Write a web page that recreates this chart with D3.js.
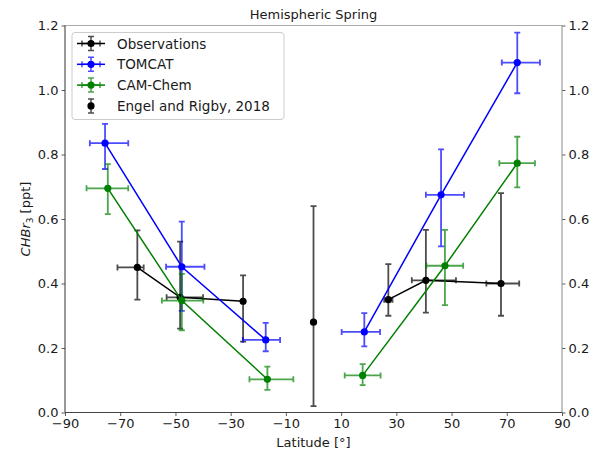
<!DOCTYPE html>
<meta charset="utf-8">
<head>
<style>
body { margin: 0; background: white; }
text { font-family: "DejaVu Sans", sans-serif; fill: #1a1a1a; }
</style>
<script src="https://d3js.org/d3.v7.min.js"></script>
</head>
<body>
<div id="chart"></div>
<script>
// values (latitude in degrees, CHBr3 in ppt)
var obsLat = [-63.8, -48.3, -25.5, 27.1, 40.7, 67.9];
var obsVal = [0.45, 0.357, 0.345, 0.35, 0.41, 0.40];
var obsYLo = [0.35, 0.26, 0.22, 0.30, 0.31, 0.30];
var obsYHi = [0.565, 0.53, 0.425, 0.46, 0.566, 0.68];
var obsXLo = [-71.0, -53.2, -25.5, 25.6, 35.6, 62.6];
var obsXHi = [-61.5, -40.0, -25.5, 28.6, 51.6, 74.5];

var tomLat = [-75.5, -47.7, -17.3, 18.4, 46.2, 73.8];
var tomVal = [0.835, 0.452, 0.225, 0.25, 0.675, 1.085];
var tomYLo = [0.755, 0.315, 0.19, 0.205, 0.515, 0.99];
var tomYHi = [0.895, 0.592, 0.278, 0.308, 0.816, 1.178];
var tomXLo = [-81.0, -53.4, -25.6, 10.2, 40.7, 68.2];
var tomXHi = [-67.1, -39.5, -12.1, 24.1, 54.5, 82.0];

var camLat = [-74.5, -47.7, -16.7, 17.8, 47.6, 73.8];
var camVal = [0.695, 0.347, 0.103, 0.115, 0.455, 0.773];
var camYLo = [0.615, 0.255, 0.07, 0.085, 0.333, 0.698];
var camYHi = [0.77, 0.43, 0.142, 0.15, 0.566, 0.855];
var camXLo = [-82.2, -54.9, -23.2, 11.3, 40.9, 67.3];
var camXHi = [-67.1, -39.9, -7.3, 24.3, 54.2, 80.2];

var engLat = [0];
var engVal = [0.28];
var engYLo = [0.02];
var engYHi = [0.64];

var xTicks = [-90, -70, -50, -30, -10, 10, 30, 50, 70, 90];
var yTicks = [0.0, 0.2, 0.4, 0.6, 0.8, 1.0, 1.2];

var width = 603, height = 458;
var margin = {left: 65, right: 41, top: 25.5, bottom: 45.5};

var svg = d3.select("#chart").append("svg")
    .attr("width", width)
    .attr("height", height);

var x = d3.scaleLinear().domain([-90, 90]).range([margin.left, width - margin.right]);
var y = d3.scaleLinear().domain([0, 1.2]).range([height - margin.bottom, margin.top]);

function pack(lat, val, ylo, yhi, xlo, xhi) {
  return lat.map(function(d, i) {
    return {lat: d, val: val[i], ylo: ylo[i], yhi: yhi[i],
            xlo: xlo ? xlo[i] : d, xhi: xhi ? xhi[i] : d};
  });
}

var series = [
  {name: "Observations", color: "#000000", bar: "rgba(0,0,0,0.7)", line: true,
   data: pack(obsLat, obsVal, obsYLo, obsYHi, obsXLo, obsXHi)},
  {name: "TOMCAT", color: "#0000ff", bar: "rgba(0,0,255,0.7)", line: true,
   data: pack(tomLat, tomVal, tomYLo, tomYHi, tomXLo, tomXHi)},
  {name: "CAM-Chem", color: "#008000", bar: "rgba(0,128,0,0.7)", line: true,
   data: pack(camLat, camVal, camYLo, camYHi, camXLo, camXHi)},
  {name: "Engel and Rigby, 2018", color: "#000000", bar: "rgba(0,0,0,0.7)", line: false,
   data: pack(engLat, engVal, engYLo, engYHi)}
];

var cap = 3;
var line = d3.line().x(function(d) { return x(d.lat); }).y(function(d) { return y(d.val); });

series.forEach(function(s) {
  var g = svg.append("g");
  if (s.line) {
    // separate segments for each hemisphere
    [s.data.filter(function(d) { return d.lat < 0; }),
     s.data.filter(function(d) { return d.lat > 0; })].forEach(function(seg) {
      g.append("path").datum(seg)
        .attr("d", line)
        .attr("fill", "none")
        .attr("stroke", s.color)
        .attr("stroke-width", 1.5);
    });
  }
  s.data.forEach(function(d) {
    var px = x(d.lat), py = y(d.val);
    // vertical bar
    g.append("path")
      .attr("d", "M" + px + "," + y(d.ylo) + "V" + y(d.yhi) +
                 "M" + (px - cap) + "," + y(d.ylo) + "H" + (px + cap) +
                 "M" + (px - cap) + "," + y(d.yhi) + "H" + (px + cap))
      .attr("stroke", s.bar).attr("stroke-width", 1.8).attr("fill", "none");
    if (d.xhi - d.xlo > 0) {
      g.append("path")
        .attr("d", "M" + x(d.xlo) + "," + py + "H" + x(d.xhi) +
                   "M" + x(d.xlo) + "," + (py - cap) + "V" + (py + cap) +
                   "M" + x(d.xhi) + "," + (py - cap) + "V" + (py + cap))
        .attr("stroke", s.bar).attr("stroke-width", 1.8).attr("fill", "none");
    }
    g.append("circle").attr("cx", px).attr("cy", py).attr("r", 3.6).attr("fill", s.color);
  });
});

// axes
var xAxis = d3.axisBottom(x).tickValues(xTicks).tickSize(3.5).tickPadding(3).tickFormat(d3.format("d"));
var yLeft = d3.axisLeft(y).tickValues(yTicks).tickSize(3.5).tickPadding(3).tickFormat(d3.format(".1f"));
var yRight = d3.axisRight(y).tickValues(yTicks).tickSize(3.5).tickPadding(3).tickFormat(d3.format(".1f"));

function style(g) {
  g.select(".domain").remove();
  g.selectAll(".tick line").attr("stroke", "#333").attr("stroke-width", 0.8);
  g.selectAll(".tick text").style("font-family", "DejaVu Sans").style("font-size", "13px").attr("fill", "#1a1a1a");
}
svg.append("g").attr("transform", "translate(0," + (height - margin.bottom) + ")").call(xAxis).call(style);
svg.append("g").attr("transform", "translate(" + margin.left + ",0)").call(yLeft).call(style);
svg.append("g").attr("transform", "translate(" + (width - margin.right) + ",0)").call(yRight).call(style);

// spines
var x0 = margin.left, x1 = width - margin.right, y0 = margin.top, y1 = height - margin.bottom;
svg.append("line").attr("x1", x0).attr("x2", x1).attr("y1", y0).attr("y2", y0).attr("stroke", "#aaa").attr("stroke-width", 1);
svg.append("line").attr("x1", x1).attr("x2", x1).attr("y1", y0).attr("y2", y1).attr("stroke", "#888").attr("stroke-width", 1);
svg.append("line").attr("x1", x0).attr("x2", x0).attr("y1", y0).attr("y2", y1).attr("stroke", "#333").attr("stroke-width", 1);
svg.append("line").attr("x1", x0).attr("x2", x1).attr("y1", y1).attr("y2", y1).attr("stroke", "#444").attr("stroke-width", 1);

// titles
svg.append("text").attr("x", (x0 + x1) / 2).attr("y", 19).attr("text-anchor", "middle")
  .style("font-size", "13px").text("Hemispheric Spring");
svg.append("text").attr("x", (x0 + x1) / 2).attr("y", 447).attr("text-anchor", "middle")
  .style("font-size", "13px").text("Latitude [°]");
var yl = svg.append("text").attr("transform", "translate(30,219) rotate(-90)").attr("text-anchor", "middle")
  .style("font-size", "13px");
yl.append("tspan").style("font-style", "italic").text("CHBr");
yl.append("tspan").attr("dy", 3).style("font-size", "9px").text("3");
yl.append("tspan").attr("dy", -3).text(" [ppt]");

// legend
var lg = svg.append("g");
lg.append("rect").attr("x", 72).attr("y", 32.5).attr("width", 212).attr("height", 87).attr("rx", 3)
  .attr("fill", "rgba(255,255,255,0.8)").attr("stroke", "#ccc").attr("stroke-width", 1);
series.forEach(function(s, i) {
  var cy = 43.5 + i * 20.8;
  var cx = 91;
  var e = lg.append("g");
  if (s.line) {
    e.append("line").attr("x1", 77).attr("x2", 105).attr("y1", cy).attr("y2", cy)
      .attr("stroke", s.color).attr("stroke-width", 1.5);
    e.append("path").attr("d", "M" + (cx - 9) + "," + cy + "H" + (cx + 9) +
        "M" + (cx - 9) + "," + (cy - 3) + "V" + (cy + 3) + "M" + (cx + 9) + "," + (cy - 3) + "V" + (cy + 3))
      .attr("stroke", s.bar).attr("stroke-width", 1.5).attr("fill", "none");
  }
  e.append("path").attr("d", "M" + cx + "," + (cy - 7) + "V" + (cy + 7) +
      "M" + (cx - 3) + "," + (cy - 7) + "H" + (cx + 3) + "M" + (cx - 3) + "," + (cy + 7) + "H" + (cx + 3))
    .attr("stroke", s.bar).attr("stroke-width", 1.5).attr("fill", "none");
  e.append("circle").attr("cx", cx).attr("cy", cy).attr("r", 3.6).attr("fill", s.color);
  e.append("text").attr("x", 117).attr("y", cy + 5).style("font-size", "13.5px").text(s.name);
});
</script>
</body>
